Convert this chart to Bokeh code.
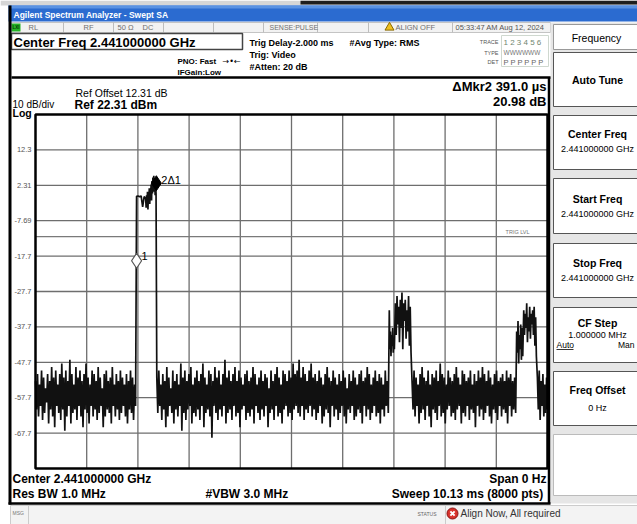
from bokeh.plotting import figure
from bokeh.models import Range1d
from bokeh.core.properties import value
from bokeh.embed import file_html
from bokeh.resources import INLINE

# ------------------------------------------------------------------ data
sweep_start_ms = -2.0          # Trig Delay -2.000 ms
sweep_ms = 10.13               # Sweep 10.13 ms
ref_level = 22.31              # Ref 22.31 dBm
db_per_div = 10
y_tick_labels = ["12.3", "2.31", "-7.69", "-17.7", "-27.7", "-37.7", "-47.7", "-57.7", "-67.7"]
trig_level = -12.2
mkr1 = (0.0, -19.0)
mkr2 = (0.391, 2.9)

noise1_span = (-2.0, -0.02)
noise1_hi = [-53, -51, -54, -50, -52, -55, -51, -53, -49, -52, -50, -54, -51, -48, -52, -50, -53, -47, -51, -54,
             -49, -52, -50, -53, -51, -48, -52, -54, -50, -51, -53, -49, -52, -55, -51, -50, -53, -52, -49, -54,
             -51, -53, -50, -52, -54, -51, -53, -50, -52, -54]
noise1_lo = [-61, -63, -60, -64, -62, -59, -65, -61, -63, -66, -60, -62, -64, -61, -67, -63, -60, -65, -62, -61,
             -64, -60, -63, -66, -61, -62, -65, -60, -63, -61, -64, -62, -60, -66, -63, -61, -62, -65, -60, -63,
             -61, -64, -62, -60, -63, -65, -61, -62, -64, -60]

burst1_plateau_t = [0.0, 0.03, 0.06, 0.09, 0.12, 0.15, 0.17]
burst1_plateau_v = [-0.8, -0.7, -0.9, -0.7, -3.8, -0.9, -1.2]
burst1_blob_span = (0.18, 0.385)
burst1_blob_hi = [-1.5, -0.5, 0.5, -0.5, 1.5, 1.0, 2.5, 3.5, 4.5, 5.0, 4.0, 3.0]
burst1_blob_lo = [-4.0, -3.5, -4.5, -2.5, -3.0, -1.5, -2.0, 0.0, 0.5, 1.0, -0.5, 0.0]

noise2_span = (0.40, 4.98)
noise2_hi = [-52, -50, -54, -51, -53, -49, -52, -55, -50, -53,
             -51, -54, -48, -52, -50, -53, -51, -49, -54, -52,
             -50, -53, -51, -48, -52, -54, -50, -51, -53, -49,
             -52, -50, -54, -51, -47, -52, -50, -53, -51, -49,
             -53, -50, -52, -54, -51, -50, -53, -52, -49, -51,
             -54, -52, -50, -53, -51, -52, -55, -50, -53, -51,
             -49, -52, -54, -50, -51, -53, -50, -52, -48, -51,
             -50, -47, -52, -49, -51, -53, -50, -48, -52, -51,
             -53, -50, -52, -54, -51, -49, -52, -53, -50, -52,
             -54, -51, -53, -50, -52, -55, -51, -53, -50, -52,
             -54, -51, -50, -53, -52, -49, -51, -54, -52, -50,
             -53, -51, -52, -54, -50, -53]
noise2_lo = [-62, -60, -64, -61, -66, -63, -60, -62, -65, -61,
             -63, -60, -67, -62, -64, -61, -60, -65, -62, -63,
             -61, -64, -60, -66, -62, -61, -63, -69, -60, -62,
             -64, -61, -63, -60, -65, -62, -61, -64, -60, -63,
             -62, -66, -61, -60, -64, -62, -63, -61, -65, -60,
             -62, -64, -61, -63, -60, -66, -62, -61, -64, -60,
             -63, -62, -65, -61, -60, -63, -62, -64, -61, -60,
             -62, -63, -60, -64, -61, -62, -60, -63, -61, -64,
             -62, -60, -65, -63, -61, -62, -66, -60, -63, -61,
             -64, -62, -60, -63, -65, -61, -62, -60, -64, -63,
             -61, -62, -65, -60, -63, -61, -64, -62, -60, -63,
             -62, -65, -61, -63, -60, -62]

burst2a_span = (5.00, 5.10)
burst2a_hi = [-33, -39, -40, -38, -41]
burst2a_lo = [-44, -46, -43, -45, -44]
burst2b_span = (5.12, 5.43)
burst2b_hi = [-31, -29, -32, -30, -28, -31, -30, -33, -29, -32]
burst2b_lo = [-40, -37, -42, -38, -44, -36, -41, -39, -43, -45]

noise3_span = (5.45, 7.50)
noise3_hi = [-53, -50, -52, -54, -51, -49, -52, -53, -50, -54,
             -51, -52, -50, -53, -48, -51, -52, -54, -50, -52,
             -53, -51, -49, -52, -54, -50, -51, -53, -52, -50,
             -54, -51, -53, -50, -52, -49, -51, -53, -50, -52,
             -54, -51, -50, -53, -52, -51, -53, -50, -52, -51,
             -53, -52]
noise3_lo = [-61, -63, -60, -65, -62, -61, -64, -60, -63, -66,
             -61, -62, -64, -60, -63, -62, -65, -61, -60, -63,
             -62, -64, -61, -60, -65, -62, -63, -60, -64, -61,
             -62, -66, -60, -63, -61, -64, -62, -60, -63, -65,
             -61, -62, -64, -60, -63, -61, -62, -65, -60, -63,
             -61, -62]

burst3a_span = (7.52, 7.64)
burst3a_hi = [-39, -36, -40, -37, -38]
burst3a_lo = [-45, -48, -44, -47, -46]
burst3b_span = (7.66, 7.91)
burst3b_hi = [-33, -34, -31, -35, -32, -34, -33, -32, -35]
burst3b_lo = [-40, -38, -42, -39, -41, -37, -40, -43, -46]

noise4_span = (7.93, 8.13)
noise4_hi = [-52, -50, -53, -51, -54, -52]
noise4_lo = [-61, -64, -60, -63, -62, -61]

# ------------------------------------------------------------------ layout
W, H = 637, 524
GX0, GX1, GY0, GY1 = 35, 547, 114, 468   # graticule box in page pixels
FONT = "Liberation Sans"

ms_per_px = sweep_ms / (GX1 - GX0)
t_start = sweep_start_ms - GX0 * ms_per_px
t_end = sweep_start_ms + sweep_ms + (W - GX1) * ms_per_px
db_per_px = 10 * db_per_div / (GY1 - GY0)
dbm_top = ref_level + GY0 * db_per_px
dbm_bot = ref_level - 10 * db_per_div - (H - GY1) * db_per_px

p = figure(width=W, height=H, x_range=Range1d(0, W), y_range=Range1d(H, 0),
           output_backend="svg", toolbar_location=None, title=None,
           x_axis_type=None, y_axis_type=None, min_border=0)
p.min_border_left = p.min_border_right = p.min_border_top = p.min_border_bottom = 0
p.outline_line_color = None
p.background_fill_color = "white"
p.border_fill_color = "white"
p.extra_x_ranges = {"t": Range1d(t_start, t_end)}
p.extra_y_ranges = {"dbm": Range1d(dbm_bot, dbm_top)}
D = dict(x_range_name="t", y_range_name="dbm")


def R(x0, y0, x1, y1, fill=None, line=None, lw=1.0):
    p.quad(left=[x0], right=[x1], top=[y0], bottom=[y1],
           fill_color=fill, line_color=line, line_width=lw)


def S(x0, y0, x1, y1, color="black", lw=1.0):
    p.segment(x0=[x0], y0=[y0], x1=[x1], y1=[y1], line_color=color, line_width=lw)


def T(x, y, s, size=9, bold=False, color="black", align="left", font=FONT):
    p.text(x=[x], y=[y], text=[s], text_font=value(font), text_font_size=f"{size}px",
           text_font_style="bold" if bold else "normal", text_color=color,
           text_align=align, text_baseline="middle")


# ---- window frame strip
R(0, 0, 637, 5, fill="#d6d6d6")
R(300, 0, 637, 4, fill="#1e1e1e")

# ---- title bar
R(8, 5, 637, 21, fill="#2b6bd0")
R(8, 5, 637, 8, fill="#5a92e2")
T(13, 14, "Agilent Spectrum Analyzer - Swept SA", 8.5, True, "white")

# ---- status row
R(11, 22, 550, 32, fill="#f2f2f2", line="#c4c4c4")
for dx in [63, 113, 163, 213, 263, 317, 368, 452]:
    S(dx, 22, dx, 32, "#bdbdbd")
R(11, 23, 20, 31, fill="#25b425")
T(15.5, 27, "LXI", 4.5, True, "#073807", "center")
sc = "#707070"
T(28, 27, "RL", 7.5, False, sc)
T(83, 27, "RF", 7.5, False, sc)
T(117, 27, "50 Ω", 7.5, False, sc)
T(142, 27, "DC", 7.5, False, sc)
T(269, 27, "SENSE:PULSE", 7, False, sc)
p.scatter(x=[389], y=[27], marker="triangle", size=9, fill_color="#f0c020", line_color="#8a6a00")
T(395, 27, "ALIGN OFF", 7.5, False, sc)
T(455, 27, "05:33:47 AM Aug 12, 2024", 7.5, False, "#555")

# ---- header
R(11, 33, 242, 49, fill="white", line="#444", lw=1.5)
T(13, 42, "Center Freq 2.441000000 GHz", 13, True)
T(249, 42, "Trig Delay-2.000 ms", 9, True)
T(249, 54, "Trig: Video", 9, True)
T(249, 66, "#Atten: 20 dB", 9, True)
T(177, 61, "PNO: Fast", 8, True)
T(222, 61, "→•←", 8, False, "black", font="DejaVu Sans")
T(177, 72, "IFGain:Low", 8, True)
T(349, 42, "#Avg Type: RMS", 9, True)
R(501, 35, 548, 66, fill=None, line="#cfd8cf")
T(498, 41, "TRACE", 5.5, False, "#555", "right")
T(503, 42, "1 2 3 4 5 6", 8, False, "#6f866f")
T(498, 52, "TYPE", 5.5, False, "#555", "right")
T(503, 52, "WWWWWW", 6.5, False, "#777")
T(498, 61, "DET", 5.5, False, "#555", "right")
T(503, 62, "P P P P P P", 7.5, False, "#666")

# ---- right soft-key panel
R(550, 22, 640, 503, fill="#e6e6e6")
R(553, 24, 642, 49, fill="white", line="#999")
T(596, 37, "Frequency", 10.5, False, "black", "center")
keys = [("Auto Tune", None, 52, 106, 79, None),
        ("Center Freq", "2.441000000 GHz", 115, 169, 133, 148),
        ("Start Freq", "2.441000000 GHz", 178, 233, 198, 213),
        ("Stop Freq", "2.441000000 GHz", 243, 297, 262, 277),
        ("CF Step", "1.000000 MHz", 307, 362, 322, 334),
        ("Freq Offset", "0 Hz", 371, 425, 389, 407)]
for title, val, y0, y1, ty, vy in keys:
    R(553, y0, 642, y1, fill="white", line="#555")
    T(597, ty, title, 10.5, True, "black", "center")
    if val:
        T(597, vy, val, 9, False, "black", "center")
R(553, 434, 642, 495, fill="white", line="#bbb")
T(556, 344, "Auto", 8.5)
S(556, 349, 573, 349, "black", 0.8)
T(634, 344, "Man", 8.5, False, "black", "right")

# ---- main panel frame
R(8, 5, 11, 504, fill="black")
S(11, 77, 550, 77, "black", 2.5)
S(548.5, 77, 548.5, 503, "black", 2.5)
S(8, 503, 550, 503, "black", 2.5)

T(75, 92, "Ref Offset 12.31 dB", 10.5)
T(74, 104, "Ref 22.31 dBm", 12, True)
T(12, 104, "10 dB/div", 10)
T(12, 112, "Log", 10.5, True)
T(546, 86, "ΔMkr2 391.0 µs", 13, True, "black", "right")
T(546, 101, "20.98 dB", 13, True, "black", "right")

T(12, 478, "Center 2.441000000 GHz", 12, True)
T(12, 493, "Res BW 1.0 MHz", 12, True)
T(205, 493, "#VBW 3.0 MHz", 12, True)
T(546, 478, "Span 0 Hz", 12, True, "black", "right")
T(546, 493, "Sweep  10.13 ms (8000 pts)", 12, True, "black", "right")

# ---- message bar
R(10, 505, 640, 526, fill="#f3f3f3", line="#cccccc")
S(28, 505, 28, 526, "#cccccc")
T(12, 512, "MSG", 5, False, "#777")
S(445, 505, 445, 526, "#cccccc")
T(417, 513, "STATUS", 5, False, "#666")
p.scatter(x=[452], y=[513], marker="circle", size=11, fill_color="#d8322c", line_color="#8a1414")
p.scatter(x=[452], y=[513], marker="x", size=6, line_color="white", line_width=2)
T(460, 513, "Align Now, All required", 10, False, "#333")

# ---- graticule (data coordinates)
t_lo, t_hi = sweep_start_ms, sweep_start_ms + sweep_ms
db_hi, db_lo = ref_level, ref_level - 10 * db_per_div
vt = [t_lo + k * sweep_ms / 10 for k in range(1, 10)]
p.segment(x0=vt, y0=[db_lo] * 9, x1=vt, y1=[db_hi] * 9, line_color="#6e6e6e", line_width=1.3, **D)
hy = [ref_level - k * db_per_div for k in range(1, 10)]
p.segment(x0=[t_lo] * 9, y0=hy, x1=[t_hi] * 9, y1=hy, line_color="#6e6e6e", line_width=1.3, **D)
p.segment(x0=[t_lo], y0=[trig_level], x1=[t_hi], y1=[trig_level], line_color="#7a7a7a", line_width=1.1, **D)
p.text(x=[t_lo + 9.3], y=[trig_level], text=["TRIG LVL"], y_offset=-5, text_font=value(FONT),
       text_font_size="5.5px", text_color="#777", text_baseline="middle", **D)
p.text(x=[31] * 9, y=hy, text=y_tick_labels, y_range_name="dbm", text_font=value(FONT),
       text_font_size="7.5px", text_color="#555", text_align="right", text_baseline="middle")


# ---- trace
def zigzag(span, hi, lo):
    t0, t1 = span
    n = 2 * len(hi)
    dt = (t1 - t0) / (n - 1)
    ts, vs = [], []
    for i, (h, l) in enumerate(zip(hi, lo)):
        ts += [t0 + 2 * i * dt, t0 + (2 * i + 1) * dt]
        vs += [h, l]
    return ts, vs


trace_t, trace_v = [], []
parts = [zigzag(noise1_span, noise1_hi, noise1_lo),
         (burst1_plateau_t, burst1_plateau_v),
         zigzag(burst1_blob_span, burst1_blob_hi, burst1_blob_lo),
         zigzag(noise2_span, noise2_hi, noise2_lo),
         zigzag(burst2a_span, burst2a_hi, burst2a_lo),
         zigzag(burst2b_span, burst2b_hi, burst2b_lo),
         zigzag(noise3_span, noise3_hi, noise3_lo),
         zigzag(burst3a_span, burst3a_hi, burst3a_lo),
         zigzag(burst3b_span, burst3b_hi, burst3b_lo),
         zigzag(noise4_span, noise4_hi, noise4_lo)]
for ts, vs in parts:
    trace_t += list(ts)
    trace_v += list(vs)
p.line(x=trace_t, y=trace_v, line_color="#111111", line_width=1.7, **D)

# ---- graticule border
p.quad(left=[t_lo], right=[t_hi], top=[db_hi], bottom=[db_lo], fill_color=None,
       line_color="black", line_width=2.5, **D)

# ---- markers
p.scatter(x=[mkr1[0]], y=[mkr1[1]], marker="diamond", size=15, fill_color="white",
          line_color="#555", line_width=1.2, **D)
p.text(x=[mkr1[0]], y=[mkr1[1]], text=["1"], x_offset=5, y_offset=-5, text_font=value(FONT),
       text_font_size="11px", text_baseline="middle", **D)
p.scatter(x=[mkr2[0]], y=[mkr2[1]], marker="diamond", size=15, fill_color="black",
          line_color="black", **D)
p.text(x=[mkr2[0]], y=[mkr2[1]], text=["2Δ1"], x_offset=5, y_offset=-3, text_font=value(FONT),
       text_font_size="11px", text_baseline="middle", **D)

open("out.html", "w").write(file_html(p, INLINE))
